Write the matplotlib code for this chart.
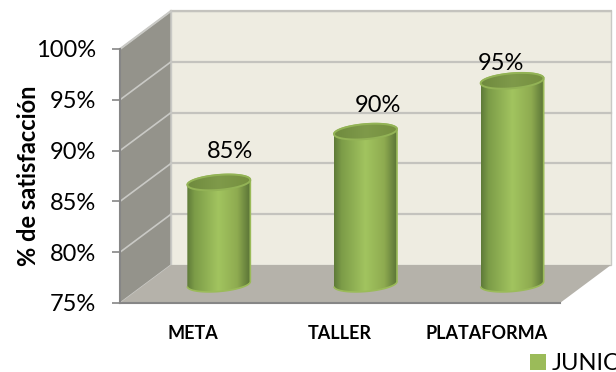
import numpy as np
import matplotlib
matplotlib.use("Agg")
import matplotlib.pyplot as plt
from matplotlib.colors import LinearSegmentedColormap
from matplotlib.patches import Patch, PathPatch, Polygon
from matplotlib.path import Path

categories = ["META", "TALLER", "PLATAFORMA"]
values = [85, 90, 95]
y_ticks = [75, 80, 85, 90, 95, 100]
y_label = "% de satisfacción"
legend_label = "JUNIO"

# nudges for the value labels, in pixels
label_shift = [(37, 50), (38, 45), (14, 36)]

plt.rcParams["font.family"] = ["Lato", "DejaVu Sans"]

fig = plt.figure(figsize=(6.16, 3.72), dpi=100)
ax = fig.add_axes([120 / 616, 1 - 303 / 372, 440 / 616, 254 / 372])
ax.set_xlim(0, 3)
ax.set_ylim(75, 100)

# size of one pixel in data units, the 3d box is an oblique projection
px_x = 3 / 440
px_y = 25 / 254
depth_x = 51 * px_x
depth_y = 38 * px_y

# walls and floor
wall = Polygon([(0, 75), (depth_x, 75 + depth_y), (depth_x, 100 + depth_y), (0, 100)],
               fc="#94938b", ec="#c9c9c5", lw=1, clip_on=False, zorder=1)
back = Polygon([(depth_x, 75 + depth_y), (3 + depth_x, 75 + depth_y),
                (3 + depth_x, 100 + depth_y), (depth_x, 100 + depth_y)],
               fc="#eeece1", ec="#c9c9c5", lw=1, clip_on=False, zorder=1)
floor = Polygon([(0, 75), (3, 75), (3 + depth_x, 75 + depth_y), (depth_x, 75 + depth_y)],
                fc="#b5b2aa", ec="none", clip_on=False, zorder=2)
ax.add_patch(wall)
ax.add_patch(back)
ax.add_patch(floor)

for t in y_ticks[1:]:
    ax.plot([depth_x, 3 + depth_x], [t + depth_y, t + depth_y], color="#c4c3be", lw=1.6,
            clip_on=False, zorder=1.5)
for t in y_ticks[:-1]:
    if t > 75:
        ax.plot([0, depth_x], [t, t + depth_y], color="#c9c9c5", lw=1.2, clip_on=False, zorder=1.5)
ax.plot([0, depth_x], [100, 100 + depth_y], color="#c9c9c5", lw=1.5, clip_on=False, zorder=1.5)

body_cmap = LinearSegmentedColormap.from_list(
    "body", [(0, "#5e7a38"), (0.12, "#7c9c48"), (0.5, "#a2c45f"), (0.8, "#8eab50"), (1, "#5b7437")])
lid_cmap = LinearSegmentedColormap.from_list(
    "lid", [(0, "#6f8a3e"), (0.5, "#7f9a4a"), (1, "#76903f")])
gradient = np.linspace(0, 1, 256).reshape(1, -1)

half_w = 31.5 * px_x
half_h = 7.5 * px_y
shear = 2.5 * px_y


def ring(cx, cy, start, stop):
    t = np.linspace(start, stop, 60)
    return np.column_stack([cx + half_w * np.cos(t), cy + half_h * np.sin(t) + shear * np.cos(t)])


for i, v in enumerate(values):
    cx = i + 0.5 + depth_x / 2
    base = 75 + depth_y / 2
    top = v + depth_y / 2

    # body: lower half of the base ellipse, then straight up to the lid
    outline = np.vstack([ring(cx, base, np.pi, 2 * np.pi), ring(cx, top, 0, np.pi)])
    body = PathPatch(Path(outline), fc="none", ec="#9bbb59", lw=1.2, clip_on=False, zorder=4)
    ax.add_patch(body)
    im = ax.imshow(gradient, cmap=body_cmap, aspect="auto", zorder=3, interpolation="bilinear",
                   extent=[cx - half_w, cx + half_w, base - 2 * half_h, top + 2 * half_h])
    im.set_clip_path(body)

    lid = PathPatch(Path(ring(cx, top, 0, 2 * np.pi)), fc="none", ec="#93b356", lw=1.4,
                    clip_on=False, zorder=6)
    ax.add_patch(lid)
    im = ax.imshow(gradient, cmap=lid_cmap, aspect="auto", zorder=5, interpolation="bilinear",
                   extent=[cx - half_w, cx + half_w, top - 2 * half_h, top + 2 * half_h])
    im.set_clip_path(lid)

    ax.annotate(f"{v}%", (i + 0.5, v), xytext=label_shift[i], textcoords="offset pixels",
                ha="center", va="center", fontsize=17, color="black", zorder=8,
                annotation_clip=False)

ax.set_xlim(0, 3)
ax.set_ylim(75, 100)
ax.patch.set_visible(False)

for side in ["top", "right"]:
    ax.spines[side].set_visible(False)
for side in ["left", "bottom"]:
    ax.spines[side].set_color("#868686")
    ax.spines[side].set_linewidth(1.5)
    ax.spines[side].set_zorder(7)

ax.set_yticks(y_ticks)
ax.set_yticklabels([f"{t}%" for t in y_ticks], fontsize=17)
ax.tick_params(axis="y", length=6, width=1.2, color="#868686", pad=11)
ax.set_xticks([i + 0.5 for i in range(len(categories))])
ax.set_xticklabels(categories, fontsize=13, fontweight="bold")
ax.tick_params(axis="x", length=0, pad=16)
ax.set_ylabel(y_label, fontsize=17, fontweight="bold", labelpad=-3)

ax.legend(handles=[Patch(fc="#9bbb59", ec="none", label=legend_label)], loc="lower left",
          bbox_to_anchor=(410 / 440, -71 / 254), frameon=False, borderpad=0, borderaxespad=0,
          handlelength=0.68, handleheight=0.68, handletextpad=0.25, fontsize=17)

fig.savefig("out.png", dpi=100)
